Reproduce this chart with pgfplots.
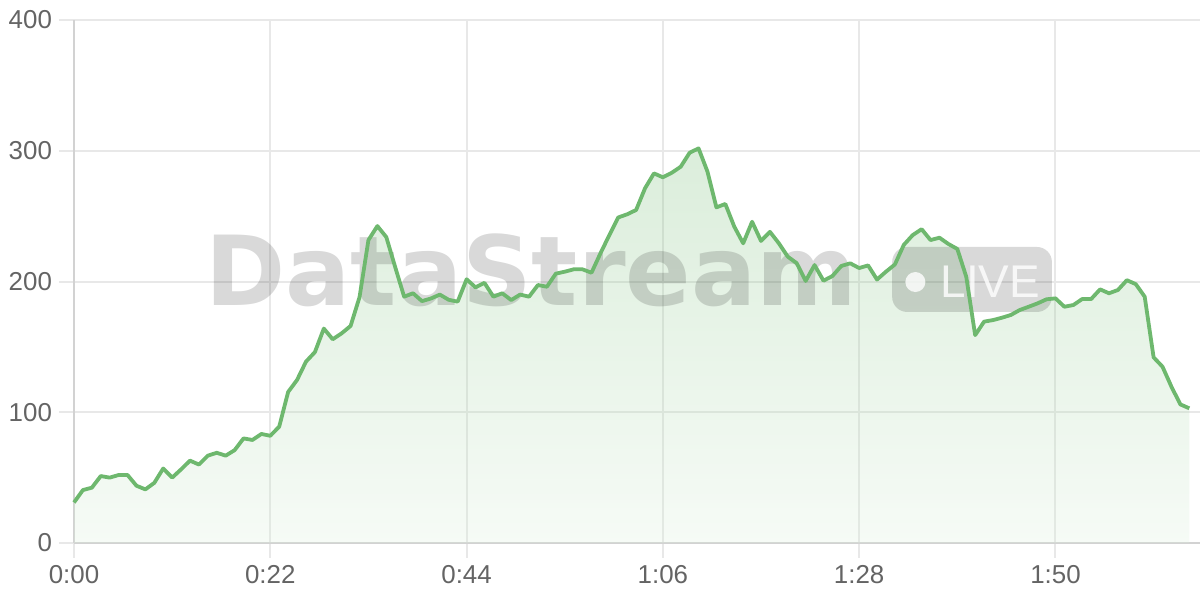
\documentclass[border=0pt]{standalone}
\usepackage{pgfplots}
\pgfplotsset{compat=1.18}
\usepackage{pgfplotstable}
\usepackage{fontspec}
\setmainfont{Liberation Sans}
\newfontfamily\wmfont{DejaVu Sans}
\definecolor{linegreen}{RGB}{110,184,110}
\definecolor{filltop}{RGB}{112,185,112}
\definecolor{fillbot}{RGB}{219,239,219}
\definecolor{gridc}{RGB}{232,232,232}
\definecolor{axisc}{RGB}{210,210,210}
\definecolor{labc}{RGB}{100,100,100}

\pgfplotstableread{
t v
0 31
1 40.5
2 42.3
3 51.2
4 50
5 52
6 52
7 43.8
8 41
9 46
10 57
11 50
12 56.3
13 63
14 60
15 66.8
16 69
17 66.8
18 71
19 80
20 78.8
21 83.4
22 82
23 89
24 115.5
25 124.7
26 138.7
27 146
28 164
29 155.8
30 160.4
31 166
32 188
33 231.7
34 242.4
35 234
36 211
37 188.4
38 191
39 185
40 187
41 190
42 186
43 184.6
44 201.7
45 195.5
46 199
47 188.4
48 191
49 185.8
50 190
51 188.4
52 197.3
53 196
54 206
55 207.5
56 209.3
57 209.3
58 206.7
59 221.5
60 235.5
61 249
62 251.4
63 254.7
64 271.3
65 282.7
66 279.7
67 283.2
68 287.8
69 298.5
70 301.8
71 284
72 256.7
73 259.3
74 242
75 229.2
76 245.7
77 231
78 238
79 229.2
80 219
81 214
82 200.4
83 212.6
84 200.6
85 204.2
86 211.9
87 213.9
88 210.3
89 212.3
90 201.5
91 207.5
92 213
93 228
94 235.5
95 240
96 231.7
97 233.5
98 228.7
99 224.9
100 203.7
101 159
102 169.3
103 170.5
104 172.3
105 174.4
106 178.2
107 180.7
108 183.3
109 186.4
110 187.1
111 180.7
112 182
113 186.6
114 186.6
115 194
116 191
117 193.5
118 201
119 198
120 188.4
121 142
122 134.8
123 119.5
124 106
125 103
}\datatable

\begin{document}
\begin{tikzpicture}
\useasboundingbox (0,0) rectangle (600bp,300bp);
\begin{axis}[
  at={(37bp,28.5bp)}, anchor=south west,
  scale only axis, width=563bp, height=261.5bp,
  xmin=0, xmax=126.2, ymin=0, ymax=400,
  axis x line=bottom, axis y line=left,
  axis line style={-, draw=axisc, line width=1bp},
  xtick={0,22,44,66,88,110},
  xticklabels={0:00,0:22,0:44,1:06,1:28,1:50},
  ytick={0,100,200,300,400},
  grid=major, grid style={draw=gridc, line width=1bp},
  tick align=outside, major tick length=7.5bp,
  tick style={draw=gridc, line width=1bp},
  ticklabel style={font=\fontsize{13}{15}\selectfont, text=labc},
  /pgf/number format/assume math mode=true,
  no markers,
  clip=false,
]
\addplot[draw=none, top color=filltop, bottom color=fillbot, fill opacity=0.25]
  table[x=t,y=v]{\datatable} \closedcycle;
\node[anchor=base west, inner sep=0, text=black, text opacity=0.15,
      font=\wmfont\bfseries\fontsize{48.5}{50}\selectfont] at (axis cs:14.7,182) {DataStream};
\fill[black, fill opacity=0.15, rounded corners=7.5bp] (axis cs:91.7,176.7) rectangle (axis cs:109.6,226.4);
\fill[white, fill opacity=0.8] (axis cs:94.3,199.6) circle[radius=5bp];
\node[anchor=base west, inner sep=0, text=white, text opacity=0.8,
      font=\fontsize{23}{23}\selectfont] at (axis cs:97.1,188.1) {LIVE};
\addplot[linegreen, line width=1.9bp, line join=round]
  table[x=t,y=v]{\datatable};
\end{axis}
\end{tikzpicture}
\end{document}
